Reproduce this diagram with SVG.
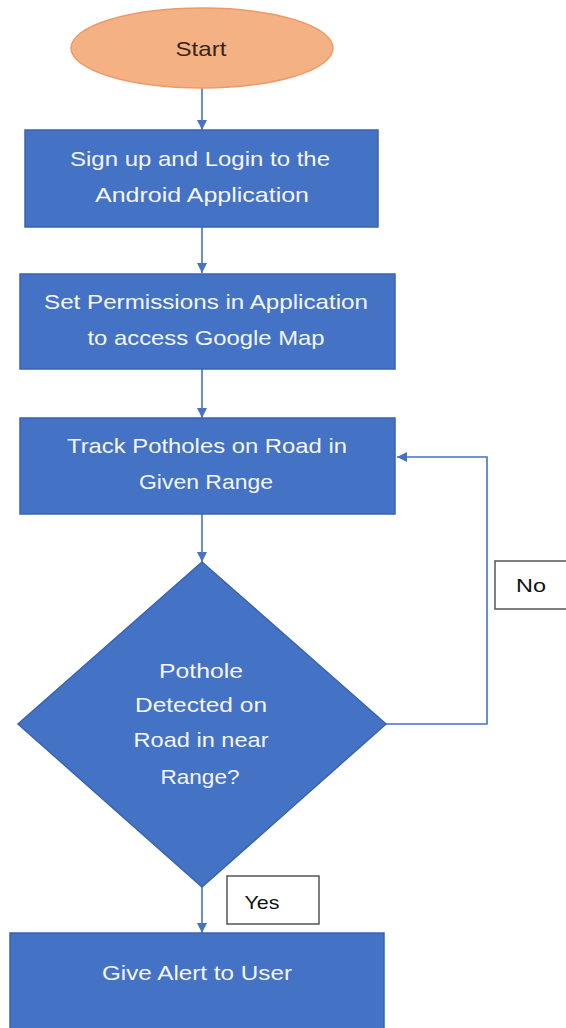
<svg xmlns="http://www.w3.org/2000/svg" width="566" height="1028" viewBox="0 0 566 1028">
<style>
.proc{fill:#4472C4;stroke:#3A64B0;stroke-width:1.5}
.t{font-family:"Liberation Sans",Arial,sans-serif;font-size:21px;fill:#F4F6FB;text-anchor:middle}
.lab{font-family:"Liberation Sans",Arial,sans-serif;font-size:19px;fill:#111;text-anchor:middle}
.lbox{fill:#fff;stroke:#555;stroke-width:1.5}
.c{fill:none;stroke:#4472C4;stroke-width:1.6}
</style>
<defs>
<marker id="ah" viewBox="0 0 10 10" refX="10" refY="5" markerWidth="10" markerHeight="10" markerUnits="userSpaceOnUse" orient="auto">
<path d="M0,0 L10,5 L0,10 Z" fill="#4472C4"/>
</marker>
</defs>
<g id="connectors">
<line class="c" x1="202" y1="88" x2="202" y2="130" marker-end="url(#ah)"/>
<line class="c" x1="202" y1="227" x2="202" y2="273" marker-end="url(#ah)"/>
<line class="c" x1="202" y1="369" x2="202" y2="418" marker-end="url(#ah)"/>
<line class="c" x1="202" y1="514" x2="202" y2="562" marker-end="url(#ah)"/>
<polyline class="c" points="386,724 487,724 487,457 397,457" marker-end="url(#ah)"/>
<line class="c" x1="202" y1="887" x2="202" y2="933" marker-end="url(#ah)"/>
</g>
<g id="start">
<ellipse cx="202" cy="48" rx="131" ry="40" fill="#F4B183" stroke="#ED9A6A" stroke-width="1.5"/>
<text x="201" y="56" font-family="Liberation Sans,Arial,sans-serif" font-size="21" fill="#3A2418" text-anchor="middle" textLength="51" lengthAdjust="spacingAndGlyphs">Start</text>
</g>
<g id="signup">
<rect class="proc" x="25" y="130" width="353" height="97"/>
<text class="t" x="200" y="166" textLength="260" lengthAdjust="spacingAndGlyphs">Sign up and Login to the</text>
<text class="t" x="202" y="202" textLength="214" lengthAdjust="spacingAndGlyphs">Android Application</text>
</g>
<g id="permissions">
<rect class="proc" x="20" y="274" width="375" height="95"/>
<text class="t" x="206" y="309" textLength="324" lengthAdjust="spacingAndGlyphs">Set Permissions in Application</text>
<text class="t" x="206" y="345" textLength="237" lengthAdjust="spacingAndGlyphs">to access Google Map</text>
</g>
<g id="track">
<rect class="proc" x="20" y="418" width="375" height="96"/>
<text class="t" x="207" y="453" textLength="280" lengthAdjust="spacingAndGlyphs">Track Potholes on Road in</text>
<text class="t" x="206" y="489" textLength="134" lengthAdjust="spacingAndGlyphs">Given Range</text>
</g>
<g id="decision">
<polygon class="proc" points="202,562 386,724 202,887 18,724"/>
<text class="t" x="201" y="678" textLength="84" lengthAdjust="spacingAndGlyphs">Pothole</text>
<text class="t" x="201" y="712" textLength="132" lengthAdjust="spacingAndGlyphs">Detected on</text>
<text class="t" x="201" y="747" textLength="135" lengthAdjust="spacingAndGlyphs">Road in near</text>
<text class="t" x="200" y="784" textLength="79" lengthAdjust="spacingAndGlyphs">Range?</text>
</g>
<g id="alert">
<rect class="proc" x="10" y="933" width="374" height="100"/>
<text class="t" x="197" y="980" textLength="190" lengthAdjust="spacingAndGlyphs">Give Alert to User</text>
</g>
<g id="label-no">
<rect class="lbox" x="495" y="561" width="80" height="48"/>
<text class="lab" x="531" y="592" textLength="30" lengthAdjust="spacingAndGlyphs">No</text>
</g>
<g id="label-yes">
<rect class="lbox" x="227" y="876" width="92" height="48"/>
<text class="lab" x="262" y="909" textLength="35" lengthAdjust="spacingAndGlyphs">Yes</text>
</g>
</svg>
